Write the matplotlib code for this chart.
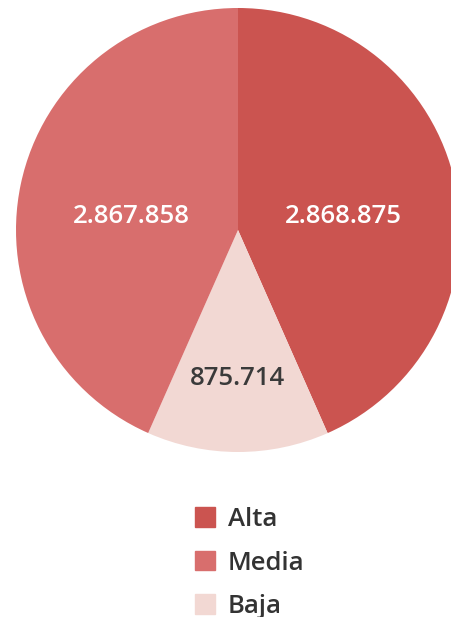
import matplotlib
matplotlib.use("Agg")
import matplotlib.pyplot as plt
from matplotlib.patches import Rectangle

plt.rcParams['font.family'] = ['Open Sans', 'DejaVu Sans']

categories = ['Alta', 'Media', 'Baja']
values = [2868875, 2867858, 875714]
labels = ['2.868.875', '2.867.858', '875.714']
colors = {'Alta': '#CB5450', 'Media': '#D86E6D', 'Baja': '#F2D8D3'}
label_colors = {'Alta': 'white', 'Media': 'white', 'Baja': '#3a3a3a'}

# clockwise drawing order in the picture: Alta, Baja, Media
draw_order = ['Alta', 'Baja', 'Media']

fig = plt.figure(figsize=(4.52, 6.17), dpi=100)
ax = fig.add_axes([0, 0, 1, 1])

cx, cy, r = 238, 617 - 230, 222
vals = [values[categories.index(c)] for c in draw_order]
wedges, _ = ax.pie(vals, colors=[colors[c] for c in draw_order], startangle=90,
                   counterclock=False, center=(cx, cy), radius=r, frame=True)
ax.set_xlim(0, 452)
ax.set_ylim(0, 617)
ax.set_aspect('equal')
ax.axis('off')

# label offsets (fractions of radius)
offs = {'Alta': (0.475, 0.06), 'Media': (-0.48, 0.06), 'Baja': (0.0, -0.667)}
for c in draw_order:
    i = categories.index(c)
    dx, dy = offs[c]
    ax.text(cx + dx * r, cy + dy * r, labels[i], ha='center', va='center',
            fontsize=18.5, fontweight='semibold', color=label_colors[c])

handles = [Rectangle((0, 0), 1, 1, color=colors[c]) for c in categories]
leg = ax.legend(handles, categories, loc='upper left', bbox_to_anchor=(195 / 452, 1 - 507 / 617),
                frameon=False, prop={'size': 18.5, 'weight': 'semibold'},
                handlelength=0.78, handleheight=0.78,
                labelspacing=0.72, handletextpad=0.5, borderpad=0, borderaxespad=0)
for t in leg.get_texts():
    t.set_color('#333333')

fig.savefig('out.png', dpi=100)
